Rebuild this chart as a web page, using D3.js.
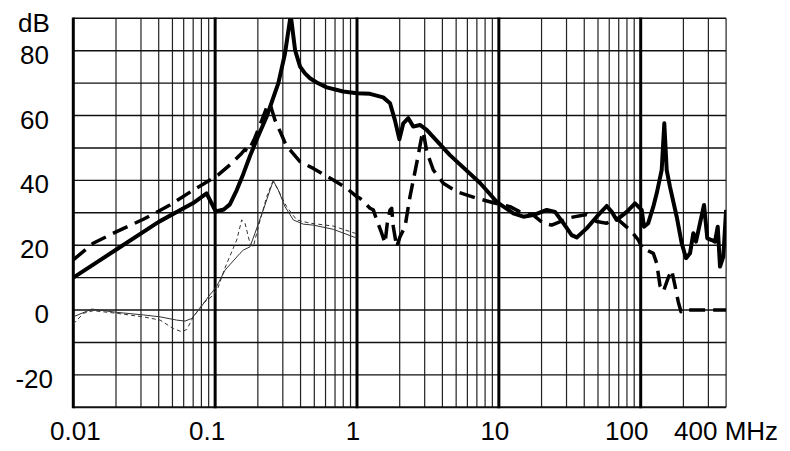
<!DOCTYPE html>
<html><head><meta charset="utf-8">
<script src="https://cdn.jsdelivr.net/npm/d3@7"></script>
<style>
html,body{margin:0;padding:0;background:#fff;}
svg{display:block;font-family:"Liberation Sans",Arial,sans-serif;}
</style></head>
<body><svg id="c" width="790" height="451"></svg>
<script>
// ---- data ----
const xTickValues = [0.01, 0.1, 1, 10, 100];
const xTickLabels = ["0.01", "0.1", "1", "10", "100"];
const yTickValues = [80, 60, 40, 20, 0, -20];
const yUnit = "dB";
const xUnitLabel = "400 MHz";

// thick solid
const freqA = [0.01,0.02,0.04,0.07,0.087,0.101,0.115,0.127,0.142,0.158,0.176,0.196,0.231,0.279,0.311,0.333,0.341,0.366,0.397,0.43,0.466,0.52,0.611,0.8,1.0,1.235,1.53,1.71,1.85,1.99,2.12,2.3,2.49,2.78,3.1,4.52,7.37,9.66,12.65,14.9,17.5,21.75,24.9,28.5,32.6,35.4,41.6,49,57.6,62.5,67.7,79.7,91.2,101.6,105.5,113,122.7,129.7,140.6,146.7,152.5,160.9,179.4,194.6,208.7,222.7,234.9,245.4,261.9,279.5,294.9,316.7,334.1,349.1,362.4,382.3,400];
const dbA   = [10,18.6,27.2,33,36,30.4,31,32.6,37,42,47.5,52.5,59.7,70,79.2,88,91,80.2,75.1,73,71.5,70.2,68.7,67.4,66.9,66.7,65.6,63.8,58.6,52.7,57.6,59.2,56.6,57.1,55.6,47.8,39.2,33.4,29.8,28.8,29.3,30.9,30.3,26.8,23.1,22.4,25.2,28.8,32.1,30.3,27.8,30.3,32.9,30.9,25.7,26.8,31.9,36,43.2,57.6,43.2,38,28.8,20.6,16,17.5,23.7,21.1,26.8,32.4,22.1,21.6,21.1,25.7,13.4,16.5,30.9];

// thick dashed
const freqB = [0.01,0.0138,0.0202,0.0312,0.048,0.070,0.092,0.105,0.131,0.154,0.162,0.171,0.19,0.213,0.231,0.244,0.264,0.2945,0.319,0.337,0.3965,0.492,0.681,0.846,0.995,1.05,1.235,1.303,1.377,1.493,1.576,1.635,1.709,1.756,1.803,1.905,2.01,2.18,2.364,2.636,2.858,2.934,3.1,3.451,4.058,5.046,6.98,9.14,11.98,14.1,17.5,20.58,23.58,31.75,41.63,48.96,57.6,67.7,75.4,86.4,96.2,104.3,110.3,122.7,129.7,136.8,144.3,156.5,165.4,174.5,184.1,192.4,199.7,400];
const dbB   = [15.5,20.6,24.2,28,32.4,37,40.1,41.7,45.3,48.4,49.5,48.9,53,58.5,62.5,63.5,58.6,54,50.4,49.4,45.8,43.7,40.1,37.6,35,34.5,31.4,30.9,27.8,23.7,20.6,26.8,30.9,31.4,25.7,19.5,22.6,25.7,35,45.3,53.5,55,48.9,43.2,39.1,36.5,34.5,33.1,31.9,30.3,29.3,26.8,26.2,28.5,29.5,27.3,26.8,28.3,26.5,24.2,21.6,18.5,18.5,17.5,14.4,7.5,5.7,10,12.3,7.5,2.5,-0.5,0,0];

// thin solid
const freqC = [0.01,0.0135,0.0202,0.0312,0.0409,0.0536,0.0613,0.0683,0.0782,0.0895,0.1023,0.1173,0.1497,0.158,0.1761,0.1909,0.2185,0.2436,0.257,0.2788,0.3108,0.3556,0.4182,0.4921,0.6808,0.968,1.0];
const dbC   = [-2.1,0.3,-0.7,-1.5,-2.1,-3.1,-3.4,-2.6,0.5,4.1,7.2,12.3,17.5,18.5,19.5,23.7,30.9,37,39.9,37,31.9,27.8,26.5,26.2,24.9,22.4,22.5];

// thin dashed
const freqD = [0.01,0.0118,0.0138,0.0202,0.0312,0.0409,0.0507,0.0581,0.063,0.0702,0.0825,0.097,0.105,0.117,0.1419,0.1539,0.1623,0.176,0.1857,0.2015,0.231,0.2545,0.271,0.319,0.3757,0.466,0.681,0.968,1.0];
const dbD   = [-4.3,-1,-0.2,-1,-2.1,-3.1,-5.7,-6.7,-6,-2.1,2.1,4.6,7,12.9,21.6,27.8,26.8,20.6,19.5,25.7,35,39.6,38,31.9,27.8,26.8,25.9,23.7,23.5];

// ---- chart ----
const svg = d3.select("#c");
const x = d3.scaleLog().domain([0.01, 400]).range([73.3, 726.1]);
const y = d3.scaleLinear().domain([-30, 90]).range([407.3, 18.3]);

// vertical grid
const vGrid = [];
for (let e = -2; e <= 2; e++) for (let k = 1; k <= 9; k++) {
  const v = k * Math.pow(10, e);
  if (v >= 0.01 && v <= 400.0001) vGrid.push(v);
}
const isDecade = v => Math.abs(Math.log10(v) - Math.round(Math.log10(v))) < 1e-9;

const g = svg.append("g");
g.selectAll("line.vmin").data(vGrid.filter(v => !isDecade(v))).join("line")
  .attr("x1", d => x(d)).attr("x2", d => x(d))
  .attr("y1", y(90)).attr("y2", y(-30))
  .attr("stroke", "#222").attr("stroke-width", 1.2);

g.selectAll("line.h").data(d3.range(-30, 91, 10)).join("line")
  .attr("x1", x(0.01)).attr("x2", x(400))
  .attr("y1", d => y(d)).attr("y2", d => y(d))
  .attr("stroke", "#111").attr("stroke-width", d => d === -30 ? 2 : 1.4);

g.selectAll("line.vmaj").data(vGrid.filter(isDecade)).join("line")
  .attr("x1", d => x(d)).attr("x2", d => x(d))
  .attr("y1", y(90) - 0.7).attr("y2", y(-30) + 1)
  .attr("stroke", "#000").attr("stroke-width", 3);

// clip
svg.append("clipPath").attr("id", "clip").append("rect")
  .attr("x", x(0.01)).attr("y", y(90)).attr("width", x(400) - x(0.01)).attr("height", y(-30) - y(90));

const line = d3.line().x(d => x(d[0])).y(d => y(d[1])).curve(d3.curveLinear);
const zip = (a, b) => a.map((v, i) => [v, b[i]]);
const cg = svg.append("g").attr("clip-path", "url(#clip)");

cg.append("path").attr("d", line(zip(freqC, dbC))).attr("fill", "none")
  .attr("stroke", "#333").attr("stroke-width", 1);
cg.append("path").attr("d", line(zip(freqD, dbD))).attr("fill", "none")
  .attr("stroke", "#333").attr("stroke-width", 1).attr("stroke-dasharray", "4,3");
cg.append("path").attr("d", line(zip(freqB, dbB))).attr("fill", "none")
  .attr("stroke", "#000").attr("stroke-width", 3.5).attr("stroke-dasharray", "16,8")
  .attr("stroke-linejoin", "round");
cg.append("path").attr("d", line(zip(freqA, dbA))).attr("fill", "none")
  .attr("stroke", "#000").attr("stroke-width", 4).attr("stroke-linejoin", "round");

// labels
const fs = 26;
const xShift = [2, -8, -4, -4, -14];
svg.selectAll("text.xt").data(xTickValues).join("text")
  .attr("x", (d, i) => x(d) + xShift[i]).attr("y", 440)
  .attr("text-anchor", "middle").attr("font-size", fs).attr("fill", "#000")
  .text((d, i) => xTickLabels[i]);
svg.append("text").attr("x", x(400) + 52).attr("y", 440)
  .attr("text-anchor", "end").attr("font-size", fs).attr("fill", "#000").text(xUnitLabel);

svg.selectAll("text.yt").data(yTickValues).join("text")
  .attr("x", d => d < 0 ? 53 : 49).attr("y", d => y(d) + 13)
  .attr("text-anchor", "end").attr("font-size", fs).attr("fill", "#000")
  .text(d => d);
svg.append("text").attr("x", 18).attr("y", 31.5)
  .attr("font-size", fs).attr("fill", "#000").text(yUnit);
</script>
</body></html>
